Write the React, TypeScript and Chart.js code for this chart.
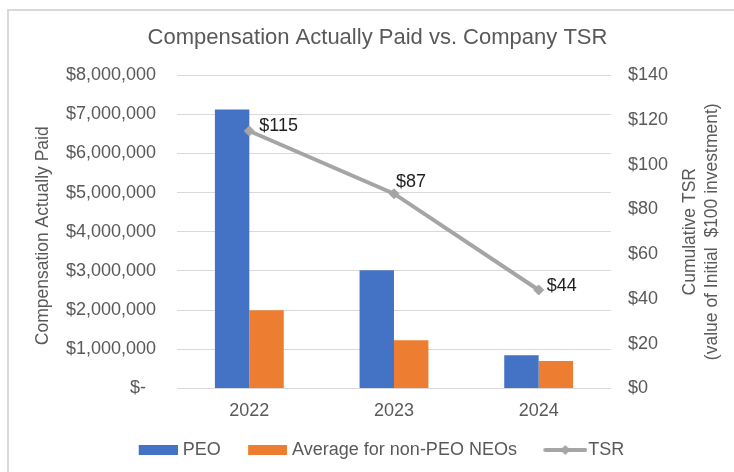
import React, { useEffect, useRef } from 'react';
import { Chart, registerables } from 'chart.js';

Chart.register(...registerables);

const categories = ['2022', '2023', '2024'];
const peoValues = [7120000, 3020000, 850000];
const nonPeoValues = [2000000, 1230000, 700000];
const tsrValues = [115, 87, 44];
const seriesNames = ['PEO', 'Average for non-PEO NEOs', 'TSR'];

const compAxisMax = 8000000;
const compAxisStep = 1000000;
const tsrAxisMax = 140;
const tsrAxisStep = 20;

const chartTitle = 'Compensation Actually Paid vs. Company TSR';
const leftAxisTitle = 'Compensation Actually Paid';
const rightAxisTitle = ['Cumulative TSR', '(value of Initial  $100 investment)'];

const BLUE = '#4472c4';
const ORANGE = '#ed7d31';
const GRAY = '#a5a5a5';
const TEXT = '#595959';
const GRID = '#d9d9d9';
const FONT = "'Liberation Sans', Arial, sans-serif";

// label offsets relative to each TSR point (style only)
const tsrLabelOffsets = [
  { dx: 10, dy: -5 },
  { dx: 2, dy: -12 },
  { dx: 8, dy: -4 },
];

// legend icon canvases: transparent left margin so the swatch sits close to its text
function makeBoxIcon(color: string) {
  const c = document.createElement('canvas');
  c.width = 51;
  c.height = 10;
  const ctx = c.getContext('2d')!;
  ctx.fillStyle = color;
  ctx.fillRect(12, 0, 39, 10);
  return c;
}

function makeLineIcon(color: string) {
  const c = document.createElement('canvas');
  c.width = 59;
  c.height = 12;
  const ctx = c.getContext('2d')!;
  const x0 = 15;
  ctx.strokeStyle = color;
  ctx.lineWidth = 4;
  ctx.lineCap = 'round';
  ctx.beginPath();
  ctx.moveTo(x0 + 2, 6);
  ctx.lineTo(x0 + 42, 6);
  ctx.stroke();
  ctx.fillStyle = color;
  ctx.beginPath();
  ctx.moveTo(x0 + 22, 1);
  ctx.lineTo(x0 + 27, 6);
  ctx.lineTo(x0 + 22, 11);
  ctx.lineTo(x0 + 17, 6);
  ctx.closePath();
  ctx.fill();
  return c;
}

const axisTitlePlugin = {
  id: 'axisTitles',
  afterDraw(chart: any) {
    const { ctx, chartArea, scales } = chart;
    const cy = (chartArea.top + chartArea.bottom) / 2;
    ctx.save();
    ctx.fillStyle = TEXT;
    ctx.font = `17.5px ${FONT}`;
    ctx.textAlign = 'center';
    ctx.textBaseline = 'middle';
    ctx.save();
    ctx.translate(scales.y.left + 22, cy + 4);
    ctx.rotate(-Math.PI / 2);
    ctx.fillText(leftAxisTitle, 0, 0);
    ctx.restore();
    const rx = scales.y1.right;
    ctx.save();
    ctx.translate(rx - 44, cy);
    ctx.rotate(-Math.PI / 2);
    ctx.fillText(rightAxisTitle[0], 0, 0);
    ctx.restore();
    ctx.save();
    ctx.translate(rx - 22, cy);
    ctx.rotate(-Math.PI / 2);
    ctx.fillText(rightAxisTitle[1], 0, 0);
    ctx.restore();
    ctx.restore();
  },
};

const tsrLabelPlugin = {
  id: 'tsrLabels',
  afterDatasetsDraw(chart: any) {
    const { ctx } = chart;
    const meta = chart.getDatasetMeta(2);
    ctx.save();
    ctx.fillStyle = '#1f1f1f';
    ctx.font = `18px ${FONT}`;
    ctx.textAlign = 'left';
    ctx.textBaseline = 'middle';
    meta.data.forEach((pt: any, i: number) => {
      const off = tsrLabelOffsets[i] || { dx: 8, dy: -8 };
      ctx.fillText('$' + tsrValues[i], pt.x + off.dx, pt.y + off.dy);
    });
    ctx.restore();
  },
};

export default function App() {
  const canvasRef = useRef<HTMLCanvasElement | null>(null);

  useEffect(() => {
    if (!canvasRef.current) return;
    const icons = [makeBoxIcon(BLUE), makeBoxIcon(ORANGE), makeLineIcon(GRAY)];
    const colors = [BLUE, ORANGE, GRAY];
    const chart = new Chart(canvasRef.current, {
      type: 'bar',
      data: {
        labels: categories,
        datasets: [
          {
            type: 'bar',
            label: seriesNames[0],
            data: peoValues,
            backgroundColor: BLUE,
            yAxisID: 'y',
            order: 1,
            categoryPercentage: 0.476,
            barPercentage: 1.0,
          },
          {
            type: 'bar',
            label: seriesNames[1],
            data: nonPeoValues,
            backgroundColor: ORANGE,
            yAxisID: 'y',
            order: 1,
            categoryPercentage: 0.476,
            barPercentage: 1.0,
          },
          {
            type: 'line',
            label: seriesNames[2],
            data: tsrValues,
            borderColor: GRAY,
            backgroundColor: GRAY,
            borderWidth: 4,
            pointStyle: 'rectRot',
            pointRadius: 5,
            pointBackgroundColor: GRAY,
            pointBorderColor: GRAY,
            pointBorderWidth: 1,
            yAxisID: 'y1',
            order: 0,
          } as any,
        ],
      },
      options: {
        responsive: false,
        animation: false,
        layout: { padding: { left: 21, right: 0, top: 0, bottom: 3 } },
        plugins: {
          title: {
            display: true,
            text: chartTitle,
            color: TEXT,
            font: { family: FONT, size: 22, weight: 'normal' },
            padding: { top: 25, bottom: 23.6 },
          },
          legend: {
            display: true,
            position: 'bottom',
            labels: {
              usePointStyle: true,
              pointStyleWidth: 43,
              padding: 19.4,
              color: TEXT,
              font: { family: FONT, size: 18 },
              generateLabels: () =>
                seriesNames.map((name, i) => ({
                  text: name,
                  fillStyle: colors[i],
                  strokeStyle: colors[i],
                  lineWidth: 0,
                  hidden: false,
                  datasetIndex: i,
                  pointStyle: icons[i],
                  fontColor: TEXT,
                })) as any,
            },
          },
          tooltip: { enabled: false },
        },
        scales: {
          x: {
            grid: { display: false, drawTicks: false },
            border: { display: false },
            ticks: { color: TEXT, font: { family: FONT, size: 18 }, padding: 11.5 },
            afterFit: (scale: any) => {
              scale.height = 33.1;
            },
          },
          y: {
            position: 'left',
            min: 0,
            max: compAxisMax,
            grid: { color: GRID, lineWidth: 1, drawTicks: false },
            border: { display: false },
            ticks: {
              stepSize: compAxisStep,
              color: TEXT,
              font: { family: FONT, size: 18 },
              padding: 21,
              callback: (v: any) => (Number(v) === 0 ? '$-  ' : '$' + Number(v).toLocaleString('en-US')),
            },
            afterFit: (scale: any) => {
              scale.width = 156;
            },
          },
          y1: {
            position: 'right',
            min: 0,
            max: tsrAxisMax,
            grid: { display: false, drawTicks: false },
            border: { display: false },
            ticks: {
              stepSize: tsrAxisStep,
              color: TEXT,
              font: { family: FONT, size: 18 },
              padding: 17,
              callback: (v: any) => '$' + v,
            },
            afterFit: (scale: any) => {
              scale.width = 123;
            },
          },
        },
      } as any,
      plugins: [axisTitlePlugin, tsrLabelPlugin],
    });
    return () => chart.destroy();
  }, []);

  return (
    <div style={{ position: 'fixed', left: 0, top: 0, width: 734, height: 472, background: '#fff', overflow: 'hidden' }}>
      <div
        style={{
          position: 'absolute',
          left: 7,
          top: 9,
          width: 800,
          height: 500,
          borderLeft: `2px solid ${GRID}`,
          borderTop: `2px solid ${GRID}`,
          boxSizing: 'border-box',
        }}
      />
      <canvas
        ref={canvasRef}
        width={734}
        height={472}
        style={{ position: 'absolute', left: 0, top: 0, display: 'block' }}
      />
    </div>
  );
}
